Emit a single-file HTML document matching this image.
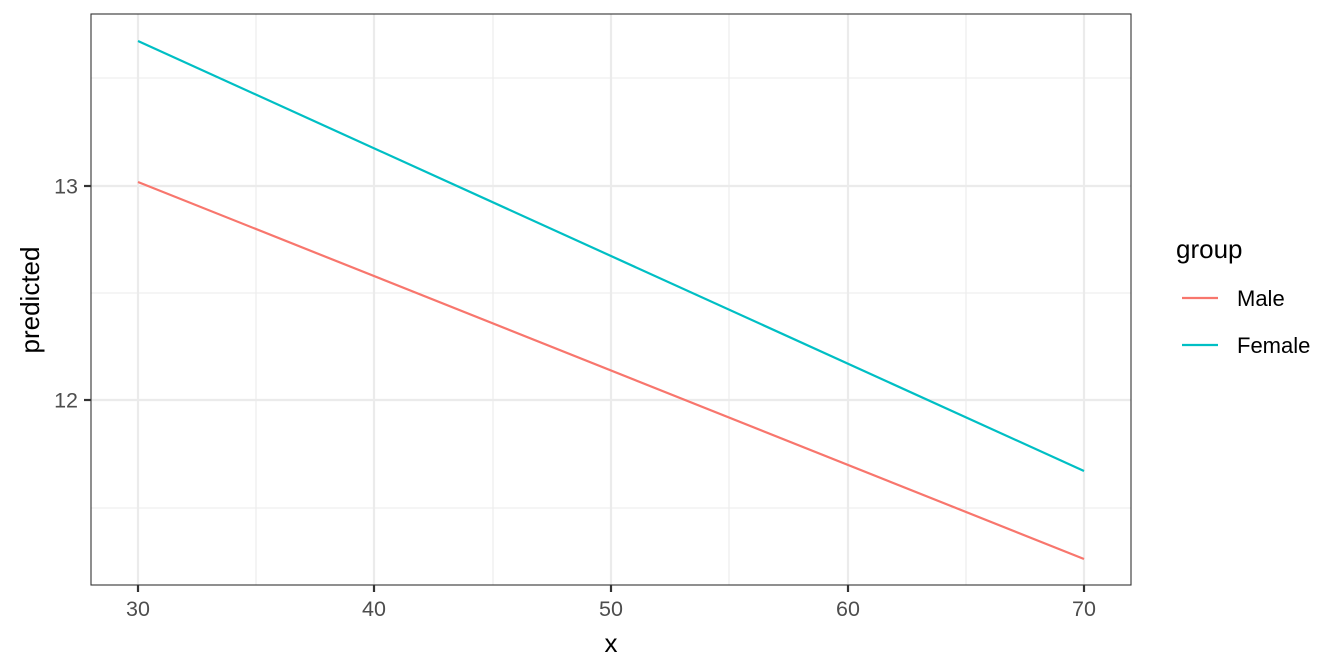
<!DOCTYPE html>
<html><head><meta charset="utf-8"><style>body{margin:0;background:#fff}svg{display:block}text{font-family:"Liberation Sans",Arial,sans-serif}</style></head>
<body>
<svg width="1344" height="672" viewBox="0 0 1344 672">
<rect width="1344" height="672" fill="#fff"/>
<g stroke="#ebebeb" stroke-width="1.1">
<line x1="91" x2="1131" y1="78" y2="78"/><line x1="91" x2="1131" y1="293" y2="293"/><line x1="91" x2="1131" y1="508" y2="508"/>
<line x1="256" x2="256" y1="14" y2="585"/><line x1="493" x2="493" y1="14" y2="585"/><line x1="729" x2="729" y1="14" y2="585"/><line x1="966" x2="966" y1="14" y2="585"/>
</g>
<g stroke="#ebebeb" stroke-width="2.2">
<line x1="91" x2="1131" y1="186" y2="186"/><line x1="91" x2="1131" y1="400" y2="400"/>
<line x1="138" x2="138" y1="14" y2="585"/><line x1="374" x2="374" y1="14" y2="585"/><line x1="611" x2="611" y1="14" y2="585"/><line x1="848" x2="848" y1="14" y2="585"/><line x1="1084" x2="1084" y1="14" y2="585"/>
</g>
<line x1="138" y1="41" x2="1084" y2="471" stroke="#00bfc4" stroke-width="2.2"/>
<line x1="138" y1="182" x2="1084" y2="559" stroke="#f8766d" stroke-width="2.2"/>
<rect x="91" y="14" width="1040" height="571" fill="none" stroke="#333" stroke-width="1.1"/>
<g stroke="#333" stroke-width="2.2">
<line x1="84" x2="91" y1="186" y2="186"/><line x1="84" x2="91" y1="400" y2="400"/>
<line x1="138" x2="138" y1="585" y2="592"/><line x1="374" x2="374" y1="585" y2="592"/><line x1="611" x2="611" y1="585" y2="592"/><line x1="848" x2="848" y1="585" y2="592"/><line x1="1084" x2="1084" y1="585" y2="592"/>
</g>
<g fill="#4d4d4d" font-size="21.5">
<text x="78" y="193.5" text-anchor="end">13</text><text x="78" y="407.5" text-anchor="end">12</text>
<g text-anchor="middle"><text x="138" y="616">30</text><text x="374" y="616">40</text><text x="611" y="616">50</text><text x="848" y="616">60</text><text x="1084" y="616">70</text></g>
</g>
<text x="611" y="652" text-anchor="middle" font-size="26">x</text>
<text transform="translate(39,300) rotate(-90)" text-anchor="middle" font-size="26">predicted</text>
<text x="1176" y="258" font-size="26">group</text>
<line x1="1182" x2="1218" y1="298" y2="298" stroke="#f8766d" stroke-width="2.2"/>
<line x1="1182" x2="1218" y1="345" y2="345" stroke="#00bfc4" stroke-width="2.2"/>
<text x="1237" y="306" font-size="22">Male</text>
<text x="1237" y="353" font-size="22">Female</text>
</svg>
</body></html>
